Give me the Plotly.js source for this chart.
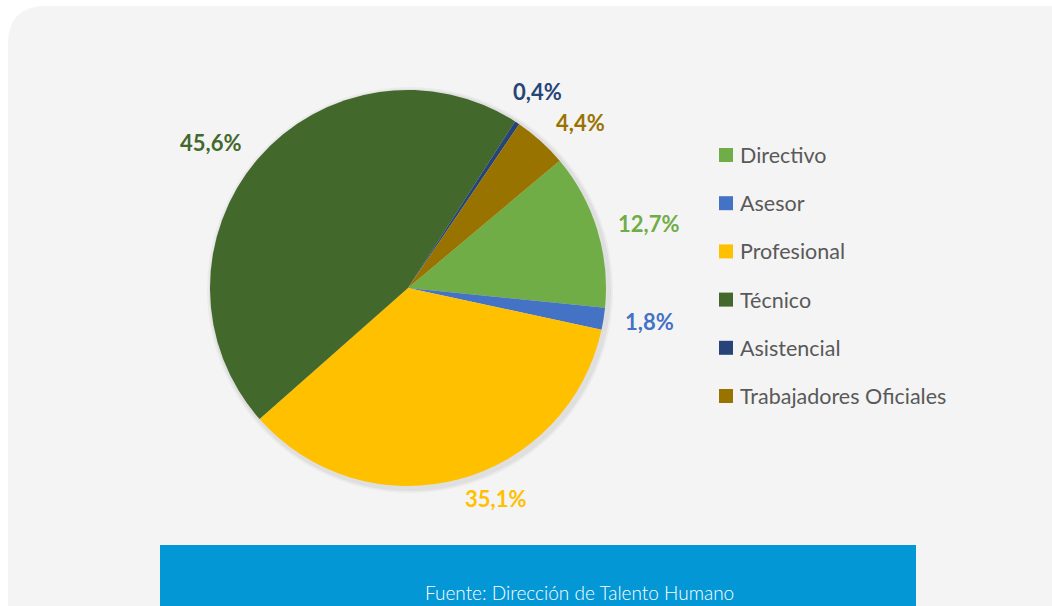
<!DOCTYPE html>
<html>
<head>
<meta charset="utf-8">
<script src="https://cdn.plot.ly/plotly-3.0.1.min.js"></script>
<style>
html,body{margin:0;padding:0;background:#ffffff;}
#chart{width:1052px;height:606px;}
</style>
</head>
<body>
<div id="chart"></div>
<script>
// ---- data ----
const labels = ['Directivo', 'Asesor', 'Profesional', 'Técnico', 'Asistencial', 'Trabajadores Oficiales'];
const values = [12.7, 1.8, 35.1, 45.6, 0.4, 4.4];
const colors = ['#70AD47', '#4472C4', '#FFC000', '#43682B', '#264478', '#997300'];
const sourceText = 'Fuente: Dirección de Talento Humano';

// ---- layout helpers ----
const W = 1052, H = 606;
const px = x => x / W;
const py = y => 1 - y / H;
const cx = 408, cy = 288, R = 198;
const rotation = 50;
const labelSize = 22;

function fmtPct(v) { return v.toFixed(1).replace('.', ',') + '%'; }

const shapes = [];
const annotations = [];

// rounded light-grey panel
(function () {
  const x0 = 8, y0 = 6, x1 = 1090, y1 = 660, r = 38;
  const p = [
    'M', px(x0), py(y0 + r),
    'Q', px(x0), py(y0), px(x0 + r), py(y0),
    'L', px(x1 - r), py(y0),
    'Q', px(x1), py(y0), px(x1), py(y0 + r),
    'L', px(x1), py(y1),
    'L', px(x0), py(y1), 'Z'
  ];
  let s = '';
  for (let i = 0; i < p.length; i++) {
    s += (typeof p[i] === 'number' ? p[i].toFixed(5) : p[i]);
    s += (typeof p[i] === 'number' && typeof p[i + 1] === 'number') ? ',' : ' ';
  }
  shapes.push({type: 'path', xref: 'paper', yref: 'paper', path: s,
    fillcolor: '#F4F4F4', line: {width: 0}, layer: 'below'});
})();

// soft pie shadow
[[5, 'rgba(0,0,0,0.035)'], [3, 'rgba(0,0,0,0.05)']].forEach(function (d) {
  shapes.push({type: 'circle', xref: 'paper', yref: 'paper',
    x0: px(cx - R - d[0] + 2), x1: px(cx + R + d[0] + 2),
    y0: py(cy + R + d[0] + 2), y1: py(cy - R - d[0] + 2),
    fillcolor: d[1], line: {width: 0}, layer: 'below'});
});

// blue source box
shapes.push({type: 'rect', xref: 'paper', yref: 'paper',
  x0: px(160), x1: px(916), y0: py(620), y1: py(545),
  fillcolor: '#0397D6', line: {width: 0}, layer: 'below'});
annotations.push({xref: 'paper', yref: 'paper', x: px(579), y: py(592),
  xanchor: 'center', yanchor: 'middle', showarrow: false, text: sourceText,
  font: {family: 'Lato, "Open Sans", sans-serif', size: 19, color: '#ffffff', weight: 300}});

// percentage labels, placed from the data angles (largest slices first, simple collision avoidance)
const total = values.reduce((a, b) => a + b, 0);
const mids = [];
let acc = 0;
values.forEach(function (v) {
  mids.push((rotation + (acc + v / 2) / total * 360) * Math.PI / 180);
  acc += v;
});
const order = values.map((v, i) => i).sort((a, b) => values[b] - values[a]);
const placed = [];
function overlaps(b) {
  return placed.some(p => !(b.x1 <= p.x0 || b.x0 >= p.x1 || b.y1 <= p.y0 || b.y0 >= p.y1));
}
order.forEach(function (i) {
  const txt = fmtPct(values[i]);
  const w = txt.length * 0.56 * labelSize, h = labelSize;
  const s = Math.sin(mids[i]), c = Math.cos(mids[i]);
  let d = R + 20;
  let x = cx + d * s, y = cy - d * c - (c > 0.5 ? 4 : 0);
  let box = s >= 0 ? {x0: x, x1: x + w, y0: y - h / 2, y1: y + h / 2}
                   : {x0: x - w, x1: x, y0: y - h / 2, y1: y + h / 2};
  let xanchor = s >= 0 ? 'left' : 'right';
  if (overlaps(box)) {
    xanchor = 'center';
    d = R + 36;
    do {
      d += 1;
      x = cx + d * s; y = cy - d * c;
      box = {x0: x - w / 2, x1: x + w / 2, y0: y - h / 2, y1: y + h / 2};
    } while (overlaps(box) && d < R + 140);
  }
  placed.push(box);
  annotations.push({xref: 'paper', yref: 'paper', x: px(x), y: py(y),
    xanchor: xanchor, yanchor: 'middle', showarrow: false,
    text: '<b>' + txt + '</b>',
    font: {family: 'Lato, "Liberation Sans", sans-serif', size: labelSize, color: colors[i]}});
});

// legend
labels.forEach(function (lab, i) {
  const yc = 155 + i * 48.2;
  shapes.push({type: 'rect', xref: 'paper', yref: 'paper',
    x0: px(719), x1: px(733), y0: py(yc + 7), y1: py(yc - 7),
    fillcolor: colors[i], line: {width: 0}});
  annotations.push({xref: 'paper', yref: 'paper', x: px(738), y: py(yc),
    xanchor: 'left', yanchor: 'middle', showarrow: false, text: lab,
    font: {family: 'Lato, "Open Sans", sans-serif', size: 21.5, color: '#595959'}});
});

const trace = {
  type: 'pie',
  labels: labels,
  values: values,
  sort: false,
  direction: 'clockwise',
  rotation: rotation,
  textinfo: 'none',
  hoverinfo: 'label+percent',
  marker: {colors: colors, line: {width: 0}},
  domain: {x: [px(cx - R), px(cx + R)], y: [py(cy + R), py(cy - R)]},
  showlegend: false
};

const layout = {
  width: W, height: H,
  margin: {l: 0, r: 0, t: 0, b: 0},
  paper_bgcolor: '#ffffff',
  plot_bgcolor: 'rgba(0,0,0,0)',
  showlegend: false,
  shapes: shapes,
  annotations: annotations
};

Plotly.newPlot('chart', [trace], layout, {displayModeBar: false, staticPlot: true});
</script>
</body>
</html>
